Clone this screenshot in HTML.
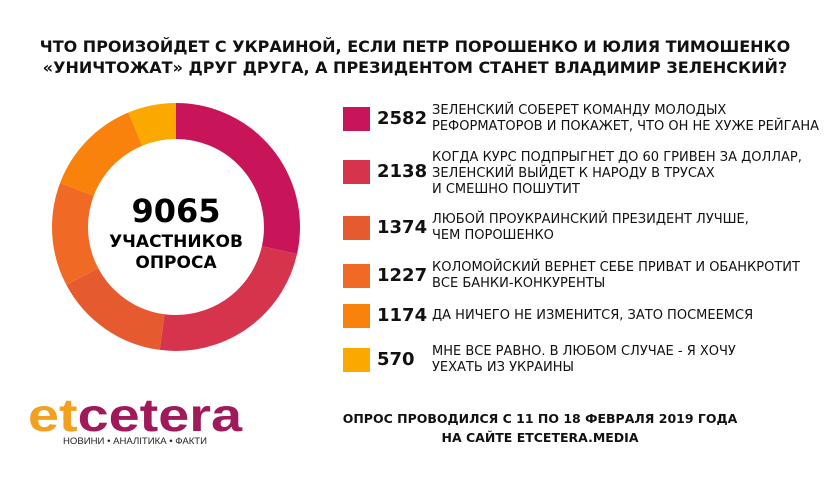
<!DOCTYPE html>
<html><head><meta charset="utf-8"><style>
body{margin:0;width:840px;height:480px;background:#fff;font-family:"DejaVu Sans","Liberation Sans",sans-serif;position:relative;overflow:hidden;color:#111}
.t{position:absolute;left:0;width:830px;text-align:center;font-weight:bold;font-size:16px;line-height:21px;top:36px}
.row{position:absolute;left:343px}
.sq{position:absolute;left:0;width:27px;height:24px}
.n{position:absolute;left:34px;font-weight:bold;font-size:18px;width:60px}
.d{position:absolute;left:89px;font-size:13px;line-height:16px;white-space:nowrap;width:420px}
.f{position:absolute;left:330px;width:420px;text-align:center;font-weight:bold;font-size:12.5px;line-height:19px;top:409px}
</style></head><body>
<div class="t">ЧТО ПРОИЗОЙДЕТ С УКРАИНОЙ, ЕСЛИ ПЕТР ПОРОШЕНКО И ЮЛИЯ ТИМОШЕНКО<br>«УНИЧТОЖАТ» ДРУГ ДРУГА, А ПРЕЗИДЕНТОМ СТАНЕТ ВЛАДИМИР ЗЕЛЕНСКИЙ?</div>
<svg style="position:absolute;left:0;top:0" width="840" height="480">
<g transform="translate(176,227) rotate(-90)" fill="none" stroke-width="36">
<circle r="106" stroke="#c8155a" stroke-dasharray="189.7 1000" stroke-dashoffset="0"/>
<circle r="106" stroke="#d6334d" stroke-dasharray="157.1 1000" stroke-dashoffset="-189.7"/>
<circle r="106" stroke="#e65a30" stroke-dasharray="100.9 1000" stroke-dashoffset="-346.8"/>
<circle r="106" stroke="#f06a25" stroke-dasharray="90.1 1000" stroke-dashoffset="-447.7"/>
<circle r="106" stroke="#f8820c" stroke-dasharray="86.2 1000" stroke-dashoffset="-537.8"/>
<circle r="106" stroke="#fba800" stroke-dasharray="41.9 1000" stroke-dashoffset="-624.0"/>
</g>
<text x="176" y="222" text-anchor="middle" font-family="DejaVu Sans" font-weight="bold" font-size="32">9065</text>
<text x="176" y="247" text-anchor="middle" font-family="DejaVu Sans" font-weight="bold" font-size="17">УЧАСТНИКОВ</text>
<text x="176" y="268" text-anchor="middle" font-family="DejaVu Sans" font-weight="bold" font-size="17">ОПРОСА</text>
<text x="28" y="431" font-family="Liberation Sans" font-weight="bold" font-size="46" textLength="214" lengthAdjust="spacingAndGlyphs"><tspan fill="#f2a01d">et</tspan><tspan fill="#a0195a">cetera</tspan></text>
<text x="63" y="444" font-family="Liberation Sans" font-size="9" fill="#222" textLength="144" lengthAdjust="spacingAndGlyphs">НОВИНИ • АНАЛІТИКА • ФАКТИ</text>
</svg>
<div class="row" style="top:107px"><div class="sq" style="background:#c8155a"></div><div class="n" style="top:1px">2582</div><div class="d" style="top:-4px">ЗЕЛЕНСКИЙ СОБЕРЕТ КОМАНДУ МОЛОДЫХ<br>РЕФОРМАТОРОВ И ПОКАЖЕТ, ЧТО ОН НЕ ХУЖЕ РЕЙГАНА</div></div>
<div class="row" style="top:160px"><div class="sq" style="background:#d6334d"></div><div class="n" style="top:1px">2138</div><div class="d" style="top:-10px">КОГДА КУРС ПОДПРЫГНЕТ ДО 60 ГРИВЕН ЗА ДОЛЛАР,<br>ЗЕЛЕНСКИЙ ВЫЙДЕТ К НАРОДУ В ТРУСАХ<br>И СМЕШНО ПОШУТИТ</div></div>
<div class="row" style="top:216px"><div class="sq" style="background:#e65a30"></div><div class="n" style="top:1px">1374</div><div class="d" style="top:-4px">ЛЮБОЙ ПРОУКРАИНСКИЙ ПРЕЗИДЕНТ ЛУЧШЕ,<br>ЧЕМ ПОРОШЕНКО</div></div>
<div class="row" style="top:264px"><div class="sq" style="background:#f06a25"></div><div class="n" style="top:1px">1227</div><div class="d" style="top:-4px">КОЛОМОЙСКИЙ ВЕРНЕТ СЕБЕ ПРИВАТ И ОБАНКРОТИТ<br>ВСЕ БАНКИ-КОНКУРЕНТЫ</div></div>
<div class="row" style="top:304px"><div class="sq" style="background:#f8820c"></div><div class="n" style="top:1px">1174</div><div class="d" style="top:4px">ДА НИЧЕГО НЕ ИЗМЕНИТСЯ, ЗАТО ПОСМЕЕМСЯ</div></div>
<div class="row" style="top:348px"><div class="sq" style="background:#fba800"></div><div class="n" style="top:1px">570</div><div class="d" style="top:-4px">МНЕ ВСЕ РАВНО. В ЛЮБОМ СЛУЧАЕ - Я ХОЧУ<br>УЕХАТЬ ИЗ УКРАИНЫ</div></div>
<div class="f">ОПРОС ПРОВОДИЛСЯ С 11 ПО 18 ФЕВРАЛЯ 2019 ГОДА<br>НА САЙТЕ ETCETERA.MEDIA</div>
</body></html>
